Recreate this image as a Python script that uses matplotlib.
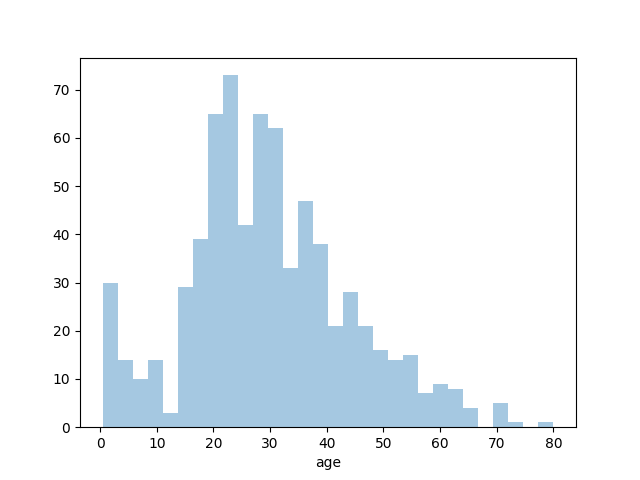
import numpy as np
import matplotlib
matplotlib.use('Agg')
import matplotlib.pyplot as plt

# histogram of passenger ages, 30 bins between min and max age
age_min = 0.42
age_max = 80.0
counts = [30, 14, 10, 14, 3, 29, 39, 65, 73, 42,
          65, 62, 33, 47, 38, 21, 28, 21, 16, 14,
          15, 7, 9, 8, 4, 0, 5, 1, 0, 1]

edges = np.linspace(age_min, age_max, len(counts) + 1)

fig, ax = plt.subplots(figsize=(6.4, 4.8), dpi=100)
ax.bar(edges[:-1], counts, width=np.diff(edges), align='edge',
       color='#1f77b4', alpha=0.4, linewidth=0)
ax.set_xlabel('age')

fig.savefig('out.png')
